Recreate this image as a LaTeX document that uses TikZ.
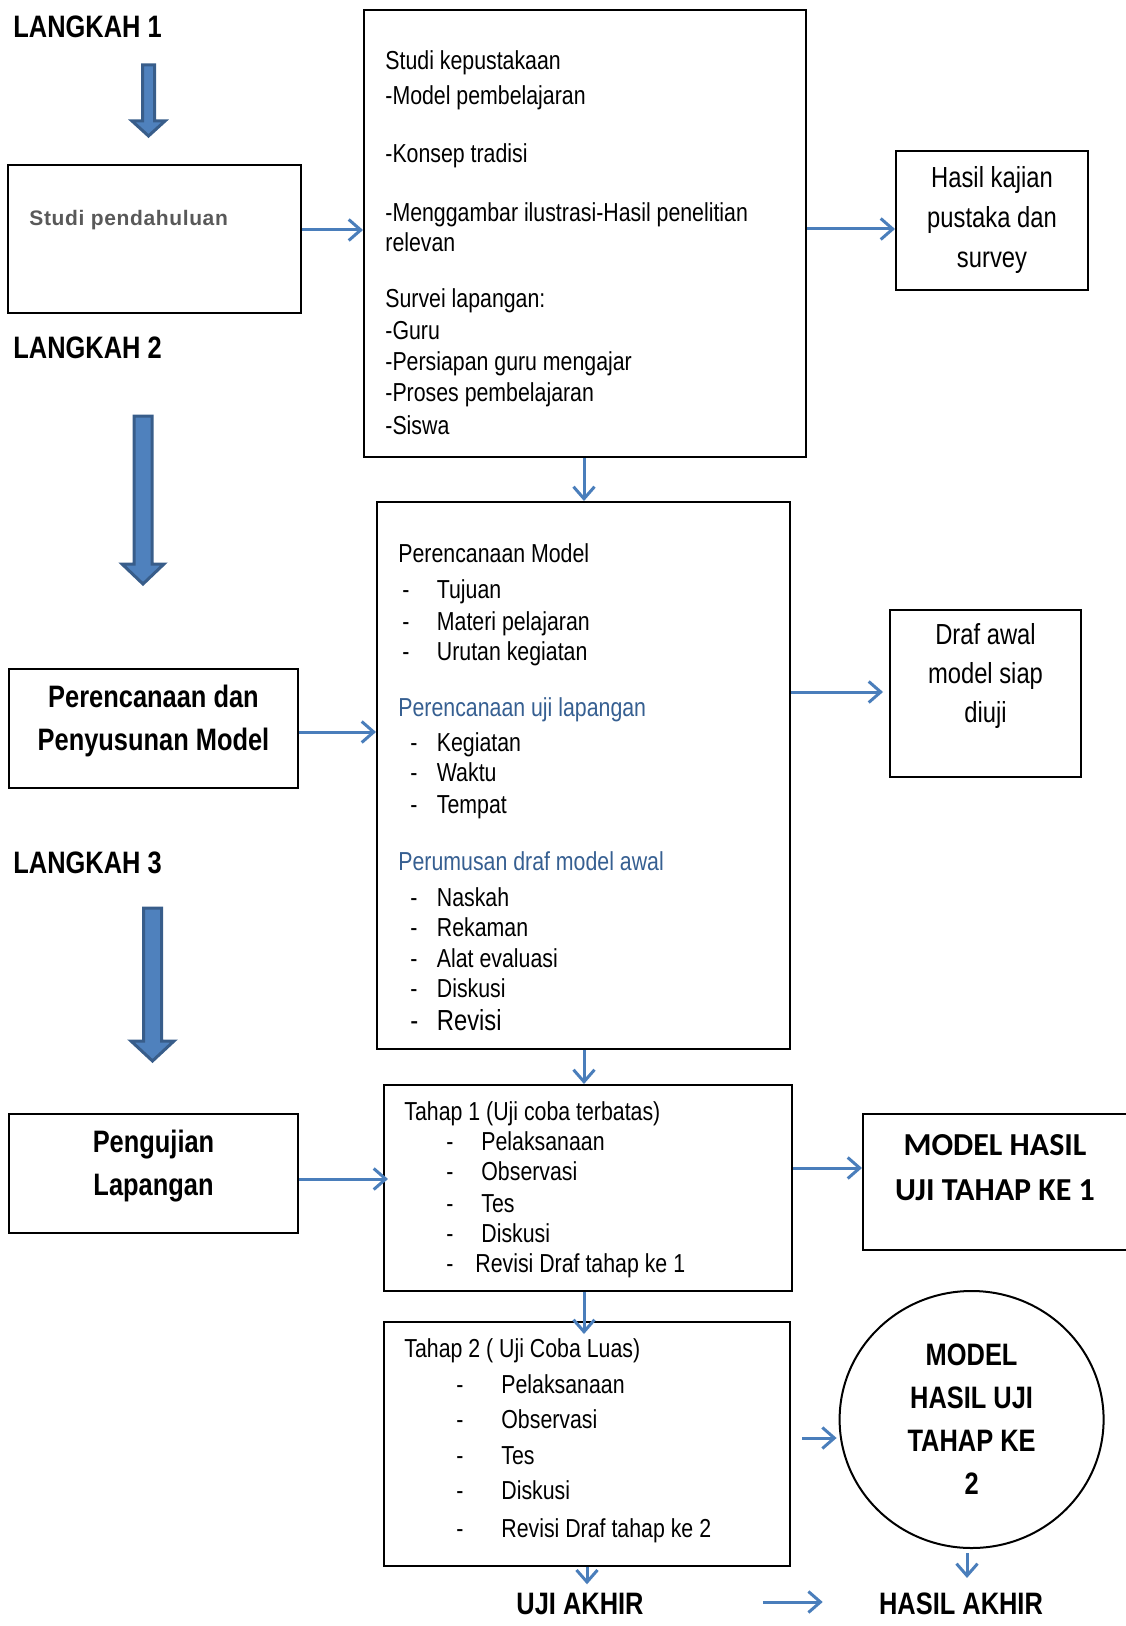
\documentclass[tikz,border=0pt]{standalone}
\usepackage{fontspec}
\setmainfont[FakeStretch=0.82]{Liberation Sans}
\newfontfamily\calibri{Carlito}
\newfontfamily\widefont[LetterSpace=3]{Liberation Sans}
\usetikzlibrary{arrows.meta,shapes.geometric}
\definecolor{linkblue}{RGB}{74,126,187}
\definecolor{arrowfill}{RGB}{79,129,189}
\definecolor{arrowedge}{RGB}{56,93,138}
\definecolor{headblue}{RGB}{54,95,145}
\begin{document}
\begin{tikzpicture}[x=0.5pt, y=-0.5pt,
    box/.style={draw, line width=1pt, inner sep=0pt, align=center},
    body/.style={font=\fontsize{13}{16}\selectfont, anchor=base west, inner sep=0pt},
    langkah/.style={font=\fontsize{15.5}{18}\selectfont\bfseries, anchor=base west, inner sep=0pt},
    bigbold/.style={font=\fontsize{15.5}{21.5}\selectfont\bfseries, align=center, inner sep=0pt},
    link/.style={draw=linkblue, line width=1.5pt, -{Straight Barb[length=6pt,width=10.5pt]}}]
  \useasboundingbox (0,0) rectangle (1125,1626);

  % langkah labels and block arrows
  \node[langkah] (l1) at (13,38) {LANGKAH 1};
  \node[langkah] (l2) at (13,358) {LANGKAH 2};
  \node[langkah] (l3) at (13,873) {LANGKAH 3};
  \foreach \cx/\ya/\yb/\yc/\sw/\hw in {148.5/65/121/136/6/16.5, 143/416/564/584/9/21, 152.5/908/1041/1061/9/21.5}
    \filldraw[fill=arrowfill, draw=arrowedge, line width=1.5pt, line join=miter]
      (\cx-\sw,\ya) -- (\cx+\sw,\ya) -- (\cx+\sw,\yb) -- (\cx+\hw,\yb) -- (\cx,\yc)
      -- (\cx-\hw,\yb) -- (\cx-\sw,\yb) -- cycle;

  % left boxes
  \node[box, minimum width=146.5pt, minimum height=74pt] (studi) at (154.5,239) {};
  \node[anchor=base west, inner sep=0pt, text=black!65, font=\widefont\fontsize{10.5}{12}\selectfont\bfseries] (studitxt) at (29,226) {Studi pendahuluan};
  \node[box, minimum width=144.5pt, minimum height=59.5pt] (penyusunan) at (153.5,728.5) {};
  \node[bigbold] (penyusunantxt) at (153.5,720.5) {Perencanaan dan\\Penyusunan Model};
  \node[box, minimum width=144.5pt, minimum height=59.5pt] (pengujian) at (153.5,1173.5) {};
  \node[bigbold] (pengujiantxt) at (153.5,1166) {Pengujian\\Lapangan};

  % box 1
  \node[box, minimum width=221pt, minimum height=223.5pt] (kepustakaan) at (585,233.5) {};
  \foreach \yb/\txt [count=\i] in {70/Studi kepustakaan, 105/-Model pembelajaran, 163/-Konsep tradisi,
      222/-Menggambar ilustrasi-Hasil penelitian, 252/relevan, 308/Survei lapangan:, 340/-Guru,
      371/-Persiapan guru mengajar, 401/-Proses pembelajaran, 434/-Siswa}
    \node[body] (k\i) at (385,\yb) {\txt};
  \node[box, font=\fontsize{14.5}{20}\selectfont, minimum width=96pt, minimum height=69.5pt] (kajian) at (992,220.5) {Hasil kajian\\pustaka dan\\survey};

  % box 2
  \node[box, minimum width=206.5pt, minimum height=273.5pt] (perencanaan) at (583.5,775.5) {};
  \node[body] (p1) at (398,562) {Perencanaan Model};
  \node[body, text=headblue] (p2) at (398,716) {Perencanaan uji lapangan};
  \node[body, text=headblue] (p3) at (398,870) {Perumusan draf model awal};
  \foreach \xd/\yb/\txt [count=\i] in {402/598/Tujuan, 402/630/Materi pelajaran, 402/660/Urutan kegiatan,
      410/751.5/Kegiatan, 410/781.5/Waktu, 410/813.5/Tempat, 410/906/Naskah, 410/936/Rekaman,
      410/967/Alat evaluasi, 410/997/Diskusi}
  {
    \node[body] (pd\i) at (\xd,\yb) {-};
    \node[body] (pm\i) at (436.5,\yb) {\txt};
  }
  \node[body, font=\fontsize{14.5}{17}\selectfont] (pd11) at (410,1030) {-};
  \node[body, font=\fontsize{14.5}{17}\selectfont] (pm11) at (436.5,1030) {Revisi};
  \node[box, minimum width=95.5pt, minimum height=83.5pt] (draf) at (985.5,693.5) {};
  \node[align=center, inner sep=0pt, font=\fontsize{14.5}{19.5}\selectfont] (draftxt) at (985.5,676) {Draf awal\\model siap\\diuji};

  % tahap 1
  \node[box, minimum width=204pt, minimum height=103pt] (tahapsatu) at (588,1188) {};
  \node[body] (s0) at (404,1120) {Tahap 1 (Uji coba terbatas)};
  \foreach \yb/\txt [count=\i] in {1150/Pelaksanaan, 1180/Observasi, 1212/Tes, 1242/Diskusi}
  {
    \node[body] (sd\i) at (446,\yb) {-};
    \node[body] (sm\i) at (481,\yb) {\txt};
  }
  \node[body] (sd5) at (446,1272) {-};
  \node[body] (sm5) at (475,1272) {Revisi Draf tahap ke 1};
  \node[box, minimum width=138.5pt, minimum height=68pt] (hasilsatu) at (1001.5,1182) {};
  \node[align=center, inner sep=0pt, font=\calibri\fontsize{16}{22.5}\selectfont\bfseries] (hasilsatutxt) at (995,1167.5) {MODEL HASIL\\UJI TAHAP KE 1};

  % tahap 2
  \node[box, minimum width=203pt, minimum height=122pt] (tahapdua) at (587,1444) {};
  \node[body] (t0) at (404,1357) {Tahap 2 ( Uji Coba Luas)};
  \foreach \yb/\txt [count=\i] in {1393/Pelaksanaan, 1428.5/Observasi, 1464/Tes, 1499/Diskusi, 1537.5/Revisi Draf tahap ke 2}
  {
    \node[body] (td\i) at (456,\yb) {-};
    \node[body] (tm\i) at (501,\yb) {\txt};
  }
  \node[draw, ellipse, line width=1pt, bigbold, minimum width=132pt, minimum height=128.5pt] (modeldua) at (971.6,1419.5) {MODEL\\HASIL UJI\\TAHAP KE\\2};

  % bottom labels
  \node[langkah, anchor=base] (ujiakhir) at (580,1614) {UJI AKHIR};
  \node[langkah, anchor=base] (hasilakhir) at (961,1614) {HASIL AKHIR};

  % connectors
  \draw[link] (studi.east |- 0,230) -- (kepustakaan.west |- 0,230);
  \draw[link] (kepustakaan.east |- 0,229) -- (kajian.west |- 0,229);
  \draw[link] (kepustakaan.south -| 584,0) -- (perencanaan.north -| 584,0);
  \draw[link] (penyusunan.east |- 0,732) -- (perencanaan.west |- 0,732);
  \draw[link, shorten >=3pt] (perencanaan.east |- 0,692) -- (draf.west |- 0,692);
  \draw[link] (perencanaan.south -| 584,0) -- (tahapsatu.north -| 584,0);
  \draw[link, shorten >=-2.5pt] (pengujian.east |- 0,1179) -- (tahapsatu.west |- 0,1179);
  \draw[link] (tahapsatu.east |- 0,1168) -- (hasilsatu.west |- 0,1168);
  \draw[link, shorten >=-6.5pt] (tahapsatu.south -| 584,0) -- (tahapdua.north -| 584,0);
  \draw[link, shorten <=5.5pt, shorten >=1pt] (tahapdua.east |- 0,1438) -- (modeldua.west |- 0,1438);
  \draw[link, shorten <=2pt, shorten >=7pt] (modeldua.south -| 967,0) -- (hasilakhir.north -| 967,0);
  \draw[link, shorten >=4pt] (tahapdua.south -| 587,0) -- (ujiakhir.north -| 587,0);
  \draw[link, shorten <=59.5pt, shorten >=28pt] (ujiakhir.east |- 0,1602) -- (hasilakhir.west |- 0,1602);
\end{tikzpicture}
\end{document}
